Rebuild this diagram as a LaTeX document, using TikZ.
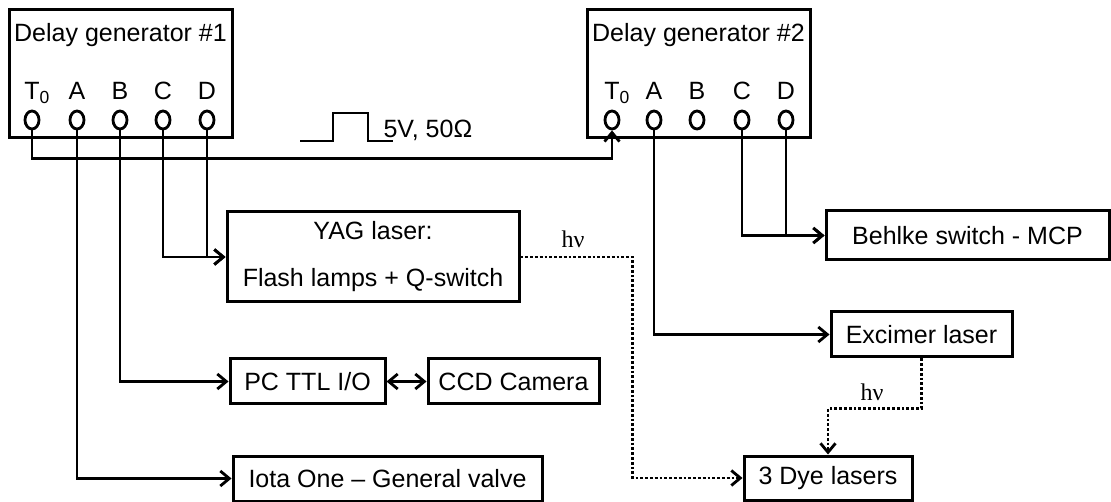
\documentclass[tikz,border=0pt]{standalone}
\usepackage{fontspec}
\setmainfont{Liberation Sans}
\newfontfamily\hvfont{Liberation Serif}
\usetikzlibrary{arrows.meta,shapes.geometric}

\begin{document}
\begin{tikzpicture}[x=1pt,y=-1pt, font=\fontsize{25}{30}\selectfont,
  box/.style={draw, line width=3pt, inner sep=0pt, align=center},
  term/.style={draw, ellipse, line width=2.8pt, inner sep=0pt, minimum width=14pt, minimum height=18pt},
  wire/.style={line width=2.8pt},
  arr/.style={wire, -{Straight Barb[length=9pt,width=15pt]}},
  dots/.style={arr, dash pattern=on 2.8pt off 2pt},
  hv/.style={anchor=base, font=\hvfont\fontsize{24}{28}\selectfont}]
\useasboundingbox (0,0) rectangle (1111,502);

% the two delay generators
\node[box, minimum width=223pt, minimum height=128pt] (gen1) at (120.5,74) {};
\node[box, minimum width=223pt, minimum height=128pt] (gen2) at (698.5,74) {};
\node[anchor=base] (gen1title) at (120.5,42) {Delay generator \#1};
\node[anchor=base] (gen2title) at (698.5,42) {Delay generator \#2};

% output channels, gen1 x / gen2 x
\foreach \ch/\lab/\xa/\xb in {T/{T\rlap{\textsubscript{0}}}/32/612, A/A/77/654, B/B/120/697, C/C/163/742, D/D/207/786}{
  \node[anchor=base] (gen1\ch lab) at (\xa,100) {\lab};
  \node[anchor=base] (gen2\ch lab) at (\xb,100) {\lab};
  \node[term] (gen1\ch) at (\xa,120) {};
  \node[term] (gen2\ch) at (\xb,120) {};
}

% trigger pulse
\draw[line width=1.4pt] (300,141) -- (333,141) -- (333,113) -- (368,113) -- (368,141) -- (393,141);
\node[anchor=base west] (pulselab) at (380,138) {5V, 50Ω};

% devices
\node[box, minimum width=292pt, minimum height=90pt] (yag) at (373,257) {YAG laser:\\[17pt]Flash lamps + Q-switch};
\node[box, minimum width=283pt, minimum height=49pt] (behlke) at (967.5,235.5) {Behlke switch - MCP};
\node[box, minimum width=181pt, minimum height=45pt] (excimer) at (921.5,334.5) {Excimer laser};
\node[box, minimum width=155pt, minimum height=45pt] (pc) at (307.5,381.5) {PC TTL I/O};
\node[box, minimum width=171pt, minimum height=45pt] (ccd) at (513.5,381.5) {CCD Camera};
\node[box, minimum width=309pt, minimum height=45pt] (iota) at (387.5,478.5) {Iota One -- General valve};
\node[box, minimum width=168pt, minimum height=44pt] (dye) at (828,478) {3 Dye lasers};

% trigger lines
\draw[arr] (gen1T.south) -- ++(0,28) -| (gen2T.south);
\draw[arr] (gen1A.south) |- (iota.west);
\draw[arr] (gen1B.south) |- (pc.west);
\draw[arr] (gen1C.south) |- (yag.west);
\draw[arr] (gen1D.south) |- (yag.west);
\draw[arr] (gen2A.south) |- (excimer.west);
\draw[arr] (gen2C.south) |- (behlke.west);
\draw[arr] (gen2D.south) |- (behlke.west);
\draw[wire, {Straight Barb[length=9pt,width=15pt]}-{Straight Barb[length=9pt,width=15pt]}] (pc) -- (ccd);

% light paths
\draw[dots] (yag.east) -- ++(112,0) |- (dye.west);
\draw[dots] (excimer.south) -- ++(0,50) -| (dye.north);
\node[hv] (hv1) at (573,248) {hν};
\node[hv] (hv2) at (872,400) {hν};
\end{tikzpicture}
\end{document}
